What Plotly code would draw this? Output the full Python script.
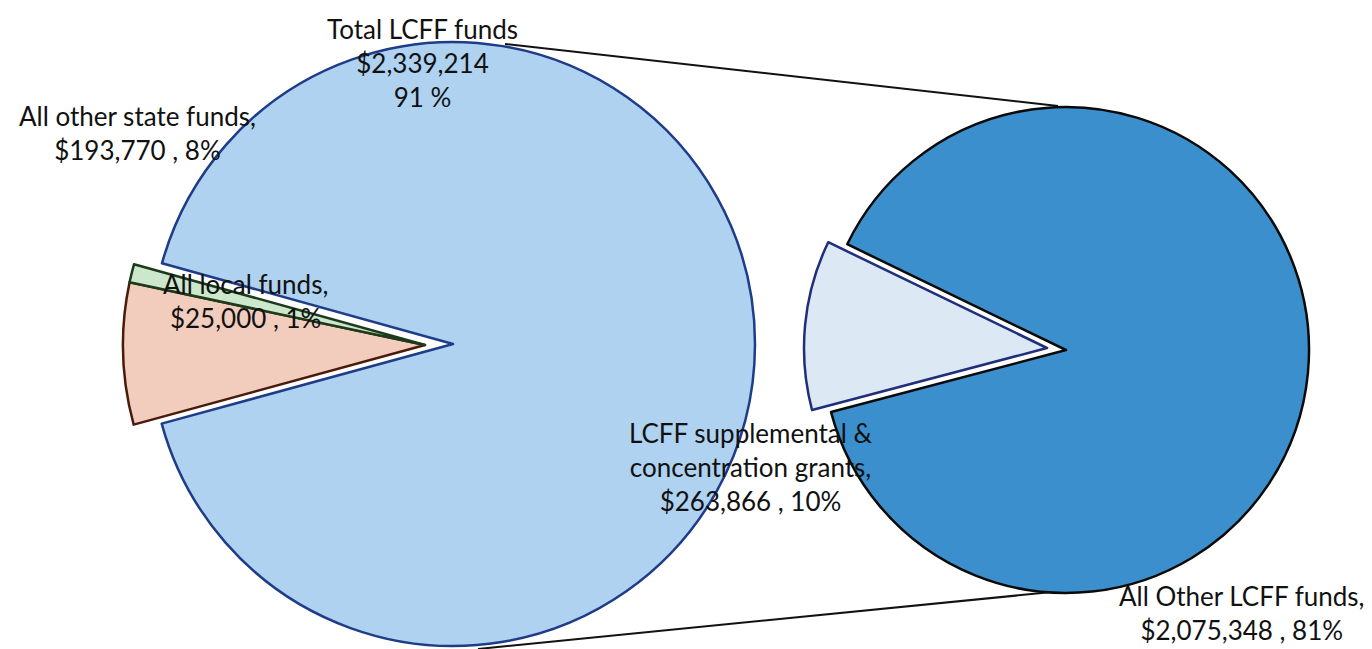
import plotly.graph_objects as go

# ---------------- data ----------------
main_labels = ["Total LCFF funds", "All other state funds", "All local funds"]
main_values = [2339214, 193770, 25000]
sub_labels = ["LCFF supplemental & concentration grants", "All Other LCFF funds"]
sub_values = [263866, 2075348]

# ---------------- layout constants ----------------
W, H = 1372, 649
FONT = "Lato"
FS = 26
TXT = "#111111"

C_LCFF = "#AED2F0"
C_STATE = "#F2CDBE"
C_LOCAL = "#CDE7CD"
C_OTHER = "#3A8FCC"
C_SUPP = "#DCE8F3"
L_LCFF = "#1F3C88"
L_STATE = "#4A1A0A"
L_LOCAL = "#1B3B1B"
L_OTHER = "#0A0A0A"
L_SUPP = "#1F2F7A"
NONE = "rgba(0,0,0,0)"
LW = 2.5


def px(x):
    return x / W


def py(y):
    return 1 - y / H


def dom(cx, cy, r):
    return dict(x=[px(cx - r), px(cx + r)], y=[py(cy + r), py(cy - r)])


total = sum(main_values)

fig = go.Figure()

common = dict(sort=False, direction="clockwise", textinfo="none",
              hoverinfo="skip", showlegend=False)

# left pie: LCFF slice in place
fig.add_trace(go.Pie(
    labels=main_labels, values=main_values, rotation=285.5,
    domain=dom(453, 344, 302),
    marker=dict(colors=[C_LCFF, NONE, NONE],
                line=dict(color=[L_LCFF, NONE, NONE], width=LW)),
    **common))
# left pie: exploded small slices
fig.add_trace(go.Pie(
    labels=main_labels, values=main_values, rotation=285.5,
    domain=dom(425, 345, 302),
    marker=dict(colors=[NONE, C_STATE, C_LOCAL],
                line=dict(color=[NONE, L_STATE, L_LOCAL], width=LW)),
    **common))
# right pie: other LCFF
fig.add_trace(go.Pie(
    labels=sub_labels, values=sub_values, rotation=255.2,
    domain=dom(1066, 350, 243),
    marker=dict(colors=[NONE, C_OTHER],
                line=dict(color=[NONE, L_OTHER], width=LW)),
    **common))
# right pie: exploded supplemental slice
fig.add_trace(go.Pie(
    labels=sub_labels, values=sub_values, rotation=255.2,
    domain=dom(1047, 348, 243),
    marker=dict(colors=[C_SUPP, NONE],
                line=dict(color=[L_SUPP, NONE], width=LW)),
    **common))

# connector lines
shapes = [
    dict(type="line", xref="paper", yref="paper",
         x0=px(505), y0=py(44), x1=px(1058), y1=py(106),
         line=dict(color="#111111", width=2)),
    dict(type="line", xref="paper", yref="paper",
         x0=px(478), y0=py(649), x1=px(1052), y1=py(592),
         line=dict(color="#111111", width=2)),
]


def money(v):
    return "${:,}".format(v)


def pct(v):
    return round(100 * v / total)


annots = [
    (422, 63, "{}<br>{}<br>{} %".format(main_labels[0], money(main_values[0]), pct(main_values[0]))),
    (137, 133, "{},<br>{} , {}%".format(main_labels[1], money(main_values[1]), pct(main_values[1]))),
    (245, 301, "{},<br>{} , {}%".format(main_labels[2], money(main_values[2]), pct(main_values[2]))),
    (751, 467, "LCFF supplemental &<br>concentration grants,<br>{} , {}%".format(money(sub_values[0]), pct(sub_values[0]))),
    (1242, 613, "{},<br>{} , {}%".format(sub_labels[1], money(sub_values[1]), pct(sub_values[1]))),
]

annotations = [
    dict(x=px(x), y=py(y), xref="paper", yref="paper", text=t,
         showarrow=False, xanchor="center", yanchor="middle", align="center",
         font=dict(family=FONT, size=FS, color=TXT))
    for x, y, t in annots
]

fig.update_layout(
    width=W, height=H,
    margin=dict(l=0, r=0, t=0, b=0),
    paper_bgcolor="white", plot_bgcolor="white",
    shapes=shapes, annotations=annotations,
    font=dict(family=FONT, size=FS, color=TXT),
)

fig.write_html("out.html",
               config={"displayModeBar": False},
               post_script="document.body.style.margin='0';document.body.style.overflow='hidden';")
